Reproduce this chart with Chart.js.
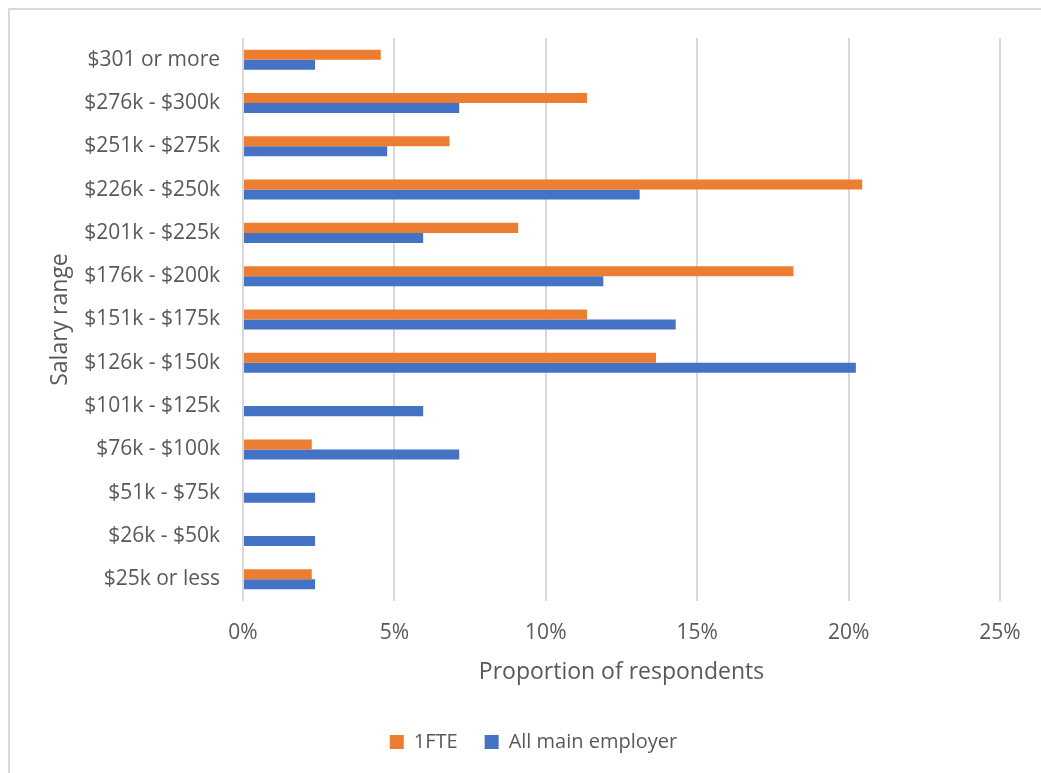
<!DOCTYPE html>
<html>
<head>
<meta charset="utf-8">
<title>Salary range</title>
<script src="https://cdn.jsdelivr.net/npm/chart.js@4.4.0/dist/chart.umd.min.js"></script>
<style>
  html, body { margin: 0; padding: 0; background: #fff; overflow: hidden; }
  #wrap { position: relative; width: 1041px; height: 773px; }
  #frame {
    position: absolute; left: 8px; top: 8px; width: 1100px; height: 900px;
    border: 2px solid #d9d9d9; pointer-events: none;
  }
</style>
</head>
<body>
<div id="wrap">
  <canvas id="myChart" width="1041" height="773"></canvas>
  <div id="frame"></div>
</div>
<script>
// salary bands, listed top to bottom
let salaryBands = [
  "$301 or more",
  "$276k - $300k",
  "$251k - $275k",
  "$226k - $250k",
  "$201k - $225k",
  "$176k - $200k",
  "$151k - $175k",
  "$126k - $150k",
  "$101k - $125k",
  "$76k - $100k",
  "$51k - $75k",
  "$26k - $50k",
  "$25k or less",
];
// proportion of respondents in each band (%)
let fteValues = [4.55, 11.36, 6.82, 20.45, 9.09, 18.18, 11.36, 13.64, 0, 2.27, 0, 0, 2.27];
let allEmployerValues = [2.38, 7.14, 4.76, 13.1, 5.95, 11.9, 14.29, 20.24, 5.95, 7.14, 2.38, 2.38, 2.38];
let percentTicks = [0, 5, 10, 15, 20, 25];

let textColor = "#595959";
let fontFamily = "'Open Sans', 'Noto Sans', sans-serif";

var ctx = document.getElementById("myChart").getContext("2d");
var myChart = new Chart(ctx, {
  type: "bar",
  data: {
    labels: salaryBands,
    datasets: [
      {
        label: "1FTE",
        backgroundColor: "#ED7D31",
        data: fteValues,
      },
      {
        label: "All main employer",
        backgroundColor: "#4472C4",
        data: allEmployerValues,
      },
    ],
  },
  options: {
    indexAxis: "y",
    responsive: false,
    animation: false,
    devicePixelRatio: 1,
    categoryPercentage: 0.463,
    barPercentage: 1,
    layout: {
      padding: { left: 67, right: 41, top: 38, bottom: 11 },
    },
    scales: {
      x: {
        min: percentTicks[0],
        max: percentTicks[percentTicks.length - 1],
        afterBuildTicks: (scale) => {
          scale.ticks = percentTicks.map((v) => ({ value: v }));
        },
        afterFit: (scale) => {
          scale.height = 104;
        },
        grid: { color: "#d9d9d9", lineWidth: 2, drawTicks: false },
        border: { display: false },
        ticks: {
          padding: 19,
          color: textColor,
          font: { family: fontFamily, size: 21 },
          callback: (v) => v + "%",
        },
        title: {
          display: true,
          text: "Proportion of respondents",
          color: textColor,
          font: { family: fontFamily, size: 23 },
          padding: { top: 0, bottom: 19 },
        },
      },
      y: {
        afterFit: (scale) => {
          scale.width = 176;
        },
        grid: { display: false, drawTicks: false },
        border: { display: false },
        ticks: {
          autoSkip: false,
          padding: 23,
          color: textColor,
          font: { family: fontFamily, size: 21 },
        },
        title: {
          display: true,
          text: "Salary range",
          color: textColor,
          font: { family: fontFamily, size: 23 },
          padding: { top: -20.8, bottom: 0 },
        },
      },
    },
    plugins: {
      legend: {
        position: "bottom",
        labels: {
          boxWidth: 14,
          boxHeight: 14,
          padding: 27,
          color: textColor,
          font: { family: fontFamily, size: 20 },
        },
      },
      tooltip: { enabled: false },
    },
  },
});
</script>
</body>
</html>
